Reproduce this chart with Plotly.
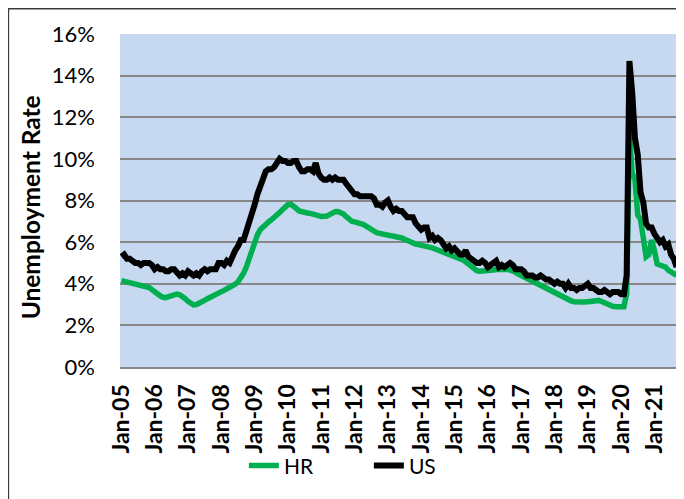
import plotly.graph_objects as go

# -----------------------------------
# Data (monthly, Jan-05 .. Sep-21)
# -----------------------------------

hr_rate = [
    4.15, 4.12, 4.08, 4.05, 4.02, 3.98, 3.96, 3.94, 3.91, 3.88, 3.82, 3.72,  # 2005
    3.60, 3.50, 3.42, 3.35, 3.33, 3.38, 3.42, 3.46, 3.50, 3.47, 3.40, 3.28,  # 2006
    3.15, 3.04, 2.98, 3.00, 3.05, 3.12, 3.20, 3.28, 3.36, 3.44, 3.50, 3.56,  # 2007
    3.62, 3.68, 3.75, 3.82, 3.88, 3.98, 4.10, 4.28, 4.50, 4.80, 5.20, 5.65,  # 2008
    6.00, 6.35, 6.60, 6.75, 6.87, 6.97, 7.07, 7.17, 7.28, 7.42, 7.56, 7.70,  # 2009
    7.80, 7.82, 7.75, 7.62, 7.50, 7.45, 7.42, 7.40, 7.38, 7.36, 7.32, 7.27,  # 2010
    7.23, 7.22, 7.25, 7.32, 7.40, 7.46, 7.47, 7.44, 7.35, 7.22, 7.10, 7.00,  # 2011
    6.97, 6.95, 6.92, 6.86, 6.78, 6.68, 6.58, 6.50, 6.45, 6.42, 6.40, 6.37,  # 2012
    6.35, 6.33, 6.30, 6.28, 6.25, 6.20, 6.14, 6.07, 6.00, 5.95, 5.91, 5.88,  # 2013
    5.86, 5.83, 5.80, 5.76, 5.72, 5.67, 5.62, 5.56, 5.50, 5.45, 5.40, 5.36,  # 2014
    5.32, 5.28, 5.22, 5.15, 5.05, 4.93, 4.80, 4.70, 4.63, 4.60, 4.60, 4.61,  # 2015
    4.62, 4.64, 4.66, 4.68, 4.69, 4.70, 4.70, 4.68, 4.66, 4.62, 4.55, 4.47,  # 2016
    4.40, 4.33, 4.26, 4.20, 4.14, 4.08, 4.01, 3.94, 3.88, 3.80, 3.72, 3.63,  # 2017
    3.55, 3.47, 3.40, 3.33, 3.27, 3.22, 3.18, 3.14, 3.12, 3.11, 3.11, 3.12,  # 2018
    3.14, 3.17, 3.20, 3.22, 3.20, 3.15, 3.08, 3.00, 2.95, 2.92, 2.90, 2.90,  # 2019
    2.90, 2.90, 3.50, 11.3, 9.30, 9.00, 7.30, 7.10, 6.20, 5.30, 5.40, 6.10,  # 2020
    5.60, 4.95, 4.90, 4.85, 4.80, 4.65, 4.55, 4.45, 4.40,                    # 2021
]

us_rate = [
    5.3, 5.4, 5.2, 5.2, 5.1, 5.0, 5.0, 4.9, 5.0, 5.0, 5.0, 4.9,  # 2005
    4.7, 4.8, 4.7, 4.7, 4.6, 4.6, 4.7, 4.7, 4.5, 4.4, 4.5, 4.4,  # 2006
    4.6, 4.5, 4.4, 4.5, 4.4, 4.6, 4.7, 4.6, 4.7, 4.7, 4.7, 5.0,  # 2007
    5.0, 4.9, 5.1, 5.0, 5.4, 5.6, 5.8, 6.1, 6.1, 6.5, 6.8, 7.3,  # 2008
    7.8, 8.3, 8.7, 9.0, 9.4, 9.5, 9.5, 9.6, 9.8, 10.0, 9.9, 9.9,  # 2009
    9.8, 9.8, 9.9, 9.9, 9.6, 9.4, 9.4, 9.5, 9.5, 9.4, 9.8, 9.3,  # 2010
    9.1, 9.0, 9.0, 9.1, 9.0, 9.1, 9.0, 9.0, 9.0, 8.8, 8.6, 8.5,  # 2011
    8.3, 8.3, 8.2, 8.2, 8.2, 8.2, 8.2, 8.1, 7.8, 7.8, 7.7, 7.9,  # 2012
    8.0, 7.7, 7.5, 7.6, 7.5, 7.5, 7.3, 7.2, 7.2, 7.2, 6.9, 6.7,  # 2013
    6.6, 6.7, 6.7, 6.2, 6.3, 6.1, 6.2, 6.1, 5.9, 5.7, 5.8, 5.6,  # 2014
    5.7, 5.5, 5.4, 5.4, 5.6, 5.3, 5.2, 5.1, 5.0, 5.0, 5.1, 5.0,  # 2015
    4.8, 4.9, 5.0, 5.1, 4.8, 4.9, 4.8, 4.9, 5.0, 4.9, 4.7, 4.7,  # 2016
    4.7, 4.6, 4.4, 4.4, 4.4, 4.3, 4.3, 4.4, 4.3, 4.2, 4.2, 4.1,  # 2017
    4.0, 4.1, 4.0, 4.0, 3.8, 4.0, 3.8, 3.8, 3.7, 3.8, 3.8, 3.9,  # 2018
    4.0, 3.8, 3.8, 3.7, 3.6, 3.6, 3.7, 3.6, 3.5, 3.6, 3.6, 3.6,  # 2019
    3.5, 3.5, 4.4, 14.7, 13.2, 11.0, 10.2, 8.4, 7.9, 6.9, 6.7, 6.7,  # 2020
    6.4, 6.2, 6.0, 6.1, 5.8, 5.9, 5.4, 5.2, 4.8,  # 2021
]

month_names = ["Jan", "Feb", "Mar", "Apr", "May", "Jun",
               "Jul", "Aug", "Sep", "Oct", "Nov", "Dec"]
years = list(range(2005, 2022))

months = [f"{m}-{y % 100:02d}" for y in years for m in month_names][:len(us_rate)]
tick_labels = [f"Jan-{y % 100:02d}" for y in years]

# -----------------------------------
# Figure
# (page body has an 8px margin, so the figure is 8px smaller)
# -----------------------------------

fig = go.Figure()

fig.add_trace(go.Scatter(
    x=months, y=hr_rate, name="HR", mode="lines",
    line=dict(color="#00B050", width=5.5)
))

fig.add_trace(go.Scatter(
    x=months, y=us_rate, name="US", mode="lines",
    line=dict(color="#000000", width=6)
))

grid = "#878787"

fig.update_layout(
    width=676,
    height=491,
    margin=dict(l=112, r=6, t=26, b=132),
    paper_bgcolor="white",
    plot_bgcolor="#C6D9F1",
    font=dict(family="Lato", color="black"),
    showlegend=True,
    legend=dict(
        orientation="h",
        x=0.222, xanchor="left",
        y=-0.297, yanchor="middle",
        font=dict(size=21),
        entrywidth=80, entrywidthmode="pixels",
        bgcolor="rgba(0,0,0,0)",
    ),
    xaxis=dict(
        type="category",
        tickvals=tick_labels,
        ticktext=tick_labels,
        tickangle=-90,
        tickfont=dict(size=23, weight="bold"),
        showgrid=False,
        showline=True, linecolor=grid, linewidth=2,
        ticks="", ticklabelstandoff=6,
        range=[-0.5, len(us_rate) - 0.5],
    ),
    yaxis=dict(
        range=[0, 16],
        dtick=2,
        ticksuffix="%",
        tickfont=dict(size=22),
        showgrid=True, gridcolor=grid, gridwidth=2,
        zeroline=False,
        ticks="", ticklabelstandoff=24,
    ),
    annotations=[dict(
        text="Unemployment Rate",
        xref="paper", yref="paper",
        x=-0.161, y=0.48,
        xanchor="center", yanchor="middle",
        textangle=-90, showarrow=False,
        font=dict(size=24.5, weight="bold"),
    )],
    shapes=[dict(
        type="rect", xref="paper", yref="paper",
        x0=-0.2, x1=1.05, y0=-0.46, y1=1.076,
        line=dict(color="#3A3A3A", width=1.5),
        layer="below",
    )],
)

fig.write_html("out.html")
